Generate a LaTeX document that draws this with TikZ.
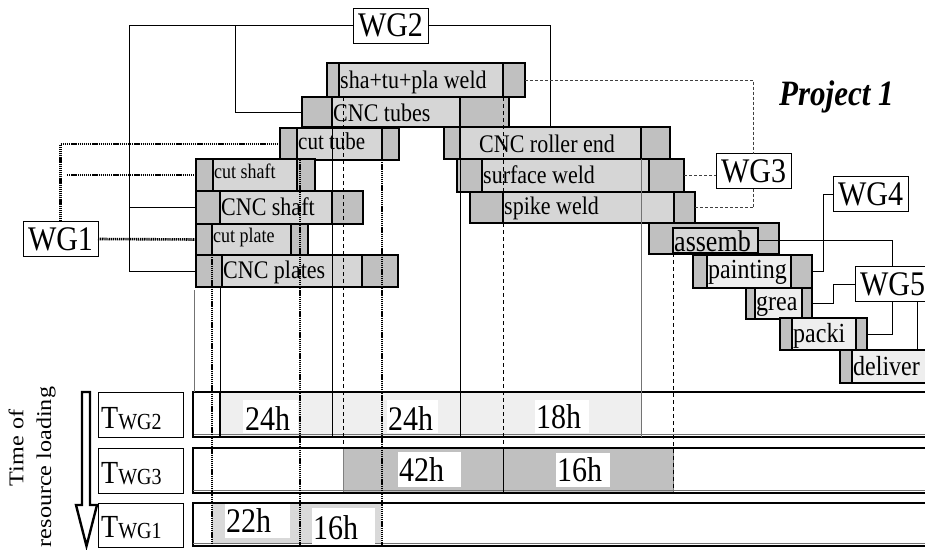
\documentclass[tikz,border=0pt]{standalone}
\usepackage{fontspec}
\setmainfont{Liberation Serif}
\usepackage{graphicx}
\definecolor{bardark}{HTML}{C0C0C0}
\definecolor{barmid}{HTML}{D6D6D6}
\definecolor{barpale}{HTML}{EEEEEE}
\definecolor{rowpale}{HTML}{EFEFEF}
\definecolor{rowmid}{HTML}{D9D9D9}
% slightly tall lettering
\newcommand\vstretch[1]{\scalebox{1}[1.15]{#1}}
\newcommand\hstretch[1]{\scalebox{1.15}[1]{#1}}
% task bar: name, x1, y1, x2, y2, inner x1, inner x2, inner style
\newcommand\taskbar[8]{%
  \node[outerbox, minimum width={(#4)-(#2)}, minimum height={(#5)-(#3)}] (#1) at ({((#2)+(#4))/2},{((#3)+(#5))/2}) {};%
  \node[#8, minimum width={(#7)-(#6)}, minimum height={(#5)-(#3)}] (#1-i) at ({((#6)+(#7))/2},{((#3)+(#5))/2}) {};%
}
\begin{document}
\begin{tikzpicture}[x=1pt,y=-1pt,
  outerbox/.style={rectangle, draw=black, line width=2.2pt, fill=bardark, inner sep=0pt, outer sep=0pt},
  innermid/.style={rectangle, draw=black, line width=2pt, fill=barmid, inner sep=0pt, outer sep=0pt},
  innerpale/.style={rectangle, draw=black, line width=2pt, fill=barpale, inner sep=0pt, outer sep=0pt},
  lbl/.style={inner sep=0pt, anchor=base west},
  f18/.style={lbl, font=\fontsize{18}{20}\selectfont},
  f21/.style={lbl, font=\fontsize{21}{23}\selectfont},
  f22/.style={lbl, font=\fontsize{22}{24}\selectfont},
  f24/.style={lbl, font=\fontsize{24}{26}\selectfont},
  f26/.style={lbl, font=\fontsize{26}{28}\selectfont},
  f30/.style={lbl, font=\fontsize{30}{32}\selectfont},
  wgbox/.style={rectangle, draw=black, line width=0.8pt, fill=white, minimum width=75pt, minimum height=35pt, inner sep=0pt, outer sep=0pt, font=\fontsize{30}{32}\selectfont},
  tbox/.style={rectangle, draw=black, line width=0.8pt, fill=white, minimum width=85pt, inner sep=0pt, outer sep=0pt},
  rowbox/.style={rectangle, draw=black, line width=2.2pt, minimum width=742pt, inner sep=0pt, outer sep=0pt},
  whitebox/.style={rectangle, fill=white, inner sep=0pt, outer sep=0pt},
  link/.style={draw=black, line width=0.8pt},
  thingray/.style={draw=black!55, line width=0.9pt},
  wgdot/.style={draw=black, line width=2.6pt, dash pattern=on 1.3pt off 0.8pt},
  wgdash/.style={draw=black!75, line width=0.8pt, dash pattern=on 3pt off 2pt},
  vdash/.style={draw=black, line width=0.8pt, dash pattern=on 4pt off 3pt},
]
\useasboundingbox (0,0) rectangle (925,549);

% ---- load rows: coloured spans
\fill[rowpale, draw=black!50, line width=0.6pt] (220,392) rectangle (641,436);
\fill[bardark, draw=black!50, line width=0.6pt] (343,448) rectangle (673,492);
\fill[rowmid] (212,503) rectangle (381,544);

% ---- load rows: frames
\node[rowbox, minimum height=45pt] (row2) at (564,414.5) {};
\node[rowbox, minimum height=45pt] (row3) at (564,470.5) {};
\node[rowbox, minimum height=43pt] (row1) at (564,524.5) {};
\draw[thingray] ([yshift=3pt]row2.south west) -- ([yshift=3pt]row2.south east);
\draw[thingray] ([yshift=3pt]row3.south west) -- ([yshift=3pt]row3.south east);
\draw[thingray] ([yshift=3pt]row1.south west) -- ([yshift=3pt]row1.south east);
\node[rectangle, draw=black, line width=2.2pt, minimum width=27pt, minimum height=45pt, inner sep=0pt] (r2cap) at (206.5,414.5) {};

% ---- task bars
\taskbar{shp}{327}{63}{525}{97}{339}{503}{innermid}
\taskbar{cnct}{302}{97}{509}{127}{332}{460}{innermid}
\taskbar{ctube}{280}{128}{399}{160}{297}{382}{innermid}
\taskbar{cre}{444}{127}{670}{159}{460}{641}{innermid}
\taskbar{sweld}{457}{159}{684}{192}{482}{649}{innermid}
\taskbar{spike}{470}{192}{695}{223}{503}{674}{innermid}
\taskbar{cshaft}{196}{159}{315}{191}{213}{297}{innermid}
\taskbar{cncs}{196}{191}{363}{224}{220}{332}{innermid}
\taskbar{cplate}{196}{224}{308}{255}{212}{291}{innermid}
\taskbar{cncp}{196}{255}{398}{287}{222}{362}{innermid}
\node[outerbox, minimum width=130pt, minimum height=31pt] (assemb) at (714,238.5) {};
\node[innermid, minimum width=85pt, minimum height=25pt] (assemb-i) at (715.5,240.5) {};
\taskbar{paint}{693}{255}{812}{288}{707}{791}{innerpale}
\taskbar{grea}{746}{288}{812}{319}{755}{802}{innerpale}
\taskbar{packi}{780}{318}{867}{350}{792}{856}{innerpale}
\taskbar{deliv}{840}{350}{945}{383}{852}{940}{innerpale}

% ---- work group boxes
\node[wgbox] (wg1) at (60.5,239) {\vstretch{WG1}};
\node[wgbox] (wg2) at (390.5,25.5) {\vstretch{WG2}};
\node[wgbox] (wg3) at (753.5,171) {\vstretch{WG3}};
\node[wgbox] (wg4) at (870.5,194) {\vstretch{WG4}};
\node[wgbox] (wg5) at (892.5,284) {\vstretch{WG5}};

% ---- WG2 assignments
\draw[link] (wg2.west) -- ++(-224,0) |- (cncp.west);
\draw[link] (wg2.west) -- ++(-118,0) |- (cnct.west);
\draw[link] (cncs.west) -- ++(-67,0);
\draw[link] (wg2.east) -| ([xshift=-7pt]cre.north);

% ---- WG1 assignments
\coordinate (tap) at (67,175);
\draw[wgdot] (wg1.north) |- (ctube.west);
\draw[wgdot] (tap) -- (cshaft.west);
\draw[wgdot] (wg1.east) -- (cplate.west);

% ---- WG3 assignments
\draw[wgdash] (shp.east) -| (wg3.north);
\draw[wgdash] (wg3.south) |- (spike.east);
\draw[wgdash] (sweld.east) -- (sweld.east -| wg3.west);

% ---- WG4 and WG5 assignments
\draw[link] (wg4.west) -- ++(-10,0) |- (paint.east);
\draw[link] (assemb-i.east) -| (wg5.north);
\draw[link] (wg5.west) -- ++(-22,0) |- (grea.east);
\draw[link] (wg5.south) |- (packi.east);
\coordinate (w5r) at ([xshift=25pt]wg5.south);
\draw[link] (w5r) -- (w5r |- deliv.north);

% ---- time marks down to the load rows
\coordinate (g1) at ([xshift=-2pt]cncp.south west);
\coordinate (g2) at ([xshift=-2pt]cncp-i.south west);
\draw[thingray] ([yshift=-3pt]g1) -- (g1 |- row2.north);
\draw[link] (g2) -- (g2 |- row2.north);
\draw[link] (cnct-i.south west) -- (cnct-i.south west |- row2.south);
\draw[link] (cre-i.south west) -- (cre-i.south west |- row2.south);
\draw[thingray] (cre-i.south east) -- (cre-i.south east |- row2.south);

\coordinate (d1) at ([xshift=4pt]shp-i.south west);
\draw[vdash] (d1) -- (d1 |- row3.north);
\draw[vdash] (shp-i.south east) -- (shp-i.south east |- row3.north);
\draw[link] (shp-i.south east |- row3.north) -- (shp-i.south east |- row3.south);
\draw[vdash] (assemb-i.south west) -- ([yshift=2pt]assemb-i.south west |- row3.south);

\coordinate (p2) at ([xshift=3pt]ctube-i.south west);
\draw[wgdot] (cplate-i.south west) -- (cplate-i.south west |- row1.south);
\draw[wgdot] (p2) -- (p2 |- row1.south);
\draw[wgdot] (ctube-i.south east) -- (ctube-i.south east |- row1.south);

% ---- hours in the load rows
\node[whitebox, minimum width=55pt, minimum height=33pt] (h1box) at (270.5,416.5) {};
\node[whitebox, minimum width=51pt, minimum height=33pt] (h2box) at (412.5,416.5) {};
\node[whitebox, minimum width=54pt, minimum height=33pt] (h3box) at (562,416.5) {};
\node[whitebox, minimum width=63pt, minimum height=35pt] (h4box) at (429.5,469.5) {};
\node[whitebox, minimum width=54pt, minimum height=34pt] (h5box) at (583,470) {};
\node[whitebox, minimum width=65pt, minimum height=34pt] (h6box) at (257.5,521) {};
\node[whitebox, minimum width=63pt, minimum height=36pt] (h7box) at (343.5,526) {};
\node[f30] (h1) at (245,430) {\vstretch{24h}};
\node[f30] (h2) at (388,430) {\vstretch{24h}};
\node[f30] (h3) at (536,428) {\vstretch{18h}};
\node[f30] (h4) at (399,481) {\vstretch{42h}};
\node[f30] (h5) at (557,481) {\vstretch{16h}};
\node[f30] (h6) at (226,532) {\vstretch{22h}};
\node[f30] (h7) at (313,539) {\vstretch{16h}};

% ---- row captions
\node[tbox, minimum height=45pt] (t2box) at (140.5,414.5) {};
\node[tbox, minimum height=45pt] (t3box) at (140.5,470.5) {};
\node[tbox, minimum height=44pt] (t1box) at (140.5,525) {};
\node[lbl] (t2) at (101,428) {{\fontsize{28}{30}\selectfont\vstretch{T}}\raisebox{-1.5pt}{\fontsize{20}{22}\selectfont\vstretch{WG2}}};
\node[lbl] (t3) at (101,483) {{\fontsize{28}{30}\selectfont\vstretch{T}}\raisebox{-1.5pt}{\fontsize{20}{22}\selectfont\vstretch{WG3}}};
\node[lbl] (t1) at (101,537) {{\fontsize{28}{30}\selectfont\vstretch{T}}\raisebox{-1.5pt}{\fontsize{20}{22}\selectfont\vstretch{WG1}}};

% ---- time arrow and its caption
\draw[black, line width=2.4pt, fill=white, line join=miter]
  (82,392) -- (90,392) -- (90,505) -- (97,505) -- (86.5,546) -- (76,505) -- (82,505) -- cycle;
\node[inner sep=0pt, rotate=90, font=\fontsize{21}{23}\selectfont] (cap1) at (16,448) {\hstretch{Time of}};
\node[inner sep=0pt, rotate=90, font=\fontsize{21}{23}\selectfont] (cap2) at (46,467) {\hstretch{resource loading}};

% ---- task names
\node[f22] (l-shp) at (340,88) {\vstretch{sha+tu+pla weld}};
\node[f22] (l-cnct) at (333,121) {\vstretch{CNC tubes}};
\node[f21] (l-ctube) at (298,149) {\vstretch{cut tube}};
\node[f18] (l-cshaft) at (214,178) {\vstretch{cut shaft}};
\node[f22] (l-cncs) at (221,215) {\vstretch{CNC shaft}};
\node[f18] (l-cplate) at (213,242) {\vstretch{cut plate}};
\node[f22] (l-cncp) at (223,278) {\vstretch{CNC plates}};
\node[f22] (l-cre) at (479,152) {\vstretch{CNC roller end}};
\node[f22] (l-sweld) at (483,183) {\vstretch{surface weld}};
\node[f22] (l-spike) at (504,214) {\vstretch{spike weld}};
\node[f26] (l-assemb) at (674,251) {\vstretch{assemb}};
\node[f24] (l-paint) at (708,278) {\vstretch{painting}};
\node[f24] (l-grea) at (756,310) {\vstretch{grea}};
\node[f24] (l-packi) at (793,342) {\vstretch{packi}};
\node[f24] (l-deliv) at (853,375) {\vstretch{deliver}};

% ---- title
\node[lbl, font=\fontsize{31}{33}\selectfont\bfseries\itshape] (proj) at (779,105) {\vstretch{Project 1}};
\end{tikzpicture}
\end{document}
